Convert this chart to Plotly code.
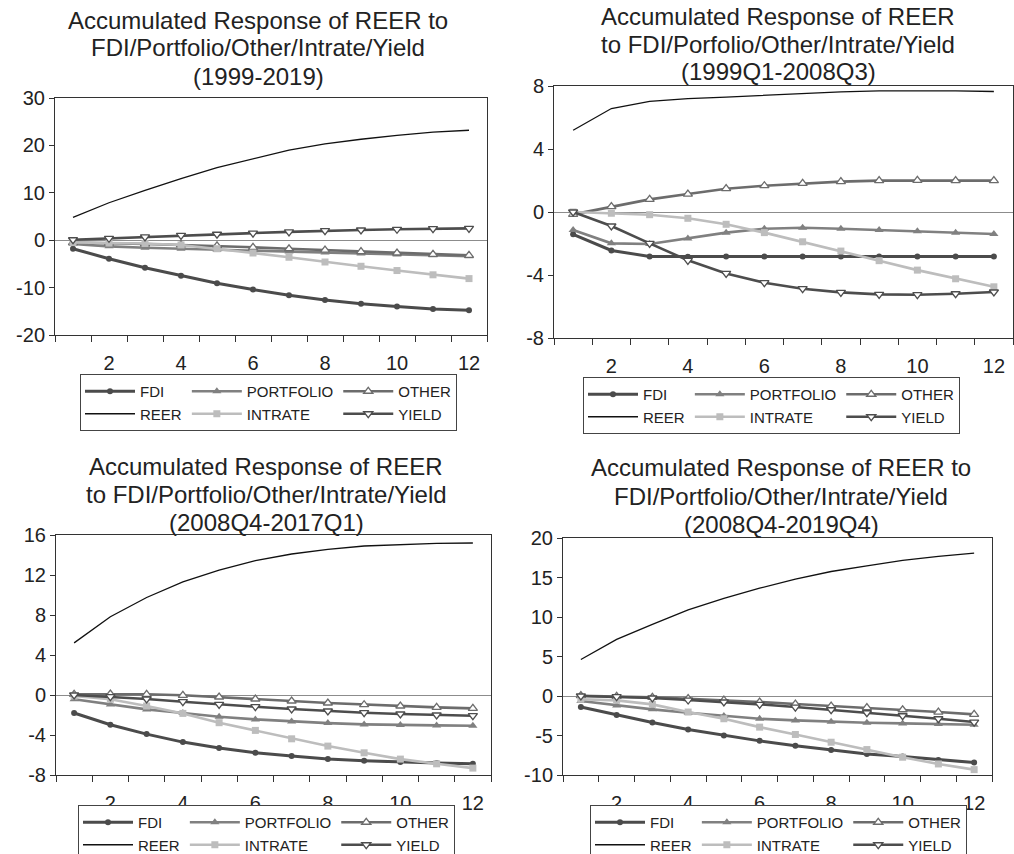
import plotly.graph_objects as go

W, H = 1014, 854
horizon = list(range(1, 13))

# ---- Panel 1: 1999-2019 ----
p1_fdi = [-1.8, -3.9, -5.8, -7.5, -9.1, -10.4, -11.6, -12.6, -13.4, -14.0, -14.5, -14.8]
p1_portfolio = [-0.8, -1.3, -1.6, -1.8, -2.0, -2.2, -2.4, -2.6, -2.8, -3.0, -3.2, -3.4]
p1_other = [-0.5, -0.6, -0.8, -1.0, -1.2, -1.5, -1.8, -2.1, -2.4, -2.7, -3.0, -3.2]
p1_reer = [4.8, 7.9, 10.5, 13.0, 15.3, 17.2, 19.0, 20.3, 21.3, 22.1, 22.8, 23.2]
p1_intrate = [-0.5, -0.6, -0.7, -1.0, -1.8, -2.7, -3.6, -4.6, -5.5, -6.4, -7.3, -8.1]
p1_yield = [0.1, 0.4, 0.7, 1.0, 1.25, 1.5, 1.75, 2.0, 2.15, 2.3, 2.45, 2.5]

# ---- Panel 2: 1999Q1-2008Q3 ----
p2_fdi = [-1.42, -2.44, -2.82, -2.84, -2.83, -2.82, -2.82, -2.82, -2.82, -2.82, -2.82, -2.82]
p2_portfolio = [-1.14, -1.99, -2.03, -1.69, -1.31, -1.06, -1.0, -1.06, -1.14, -1.23, -1.31, -1.4]
p2_other = [-0.15, 0.34, 0.8, 1.14, 1.48, 1.67, 1.82, 1.93, 1.99, 2.01, 1.99, 1.99]
p2_reer = [5.19, 6.57, 7.03, 7.2, 7.3, 7.42, 7.54, 7.63, 7.69, 7.71, 7.69, 7.65]
p2_intrate = [0.0, -0.08, -0.17, -0.4, -0.78, -1.31, -1.89, -2.48, -3.09, -3.69, -4.24, -4.75]
p2_yield = [0.0, -0.89, -1.99, -3.07, -3.9, -4.49, -4.87, -5.1, -5.23, -5.25, -5.19, -5.08]

# ---- Panel 3: 2008Q4-2017Q1 ----
p3_fdi = [-1.8, -2.97, -3.91, -4.71, -5.31, -5.78, -6.11, -6.41, -6.58, -6.71, -6.81, -6.88]
p3_portfolio = [-0.43, -0.94, -1.44, -1.8, -2.17, -2.44, -2.64, -2.81, -2.94, -3.01, -3.04, -3.07]
p3_other = [0.07, 0.1, 0.07, -0.03, -0.2, -0.4, -0.6, -0.8, -0.97, -1.1, -1.24, -1.34]
p3_reer = [5.21, 7.82, 9.75, 11.32, 12.49, 13.43, 14.1, 14.56, 14.9, 15.06, 15.16, 15.2]
p3_intrate = [-0.1, -0.43, -1.1, -1.84, -2.77, -3.54, -4.38, -5.11, -5.78, -6.41, -6.88, -7.31]
p3_yield = [0.0, -0.17, -0.4, -0.67, -0.94, -1.17, -1.4, -1.6, -1.77, -1.9, -2.0, -2.07]

# ---- Panel 4: 2008Q4-2019Q4 ----
p4_fdi = [-1.4, -2.42, -3.35, -4.24, -5.0, -5.68, -6.31, -6.82, -7.33, -7.67, -8.09, -8.43]
p4_portfolio = [-0.64, -1.19, -1.69, -2.12, -2.54, -2.88, -3.09, -3.26, -3.39, -3.47, -3.56, -3.64]
p4_other = [0.04, -0.04, -0.17, -0.34, -0.51, -0.76, -1.02, -1.27, -1.48, -1.74, -2.03, -2.33]
p4_reer = [4.62, 7.16, 9.07, 10.89, 12.37, 13.64, 14.79, 15.76, 16.48, 17.16, 17.67, 18.09]
p4_intrate = [-0.42, -0.55, -1.06, -2.03, -2.88, -3.94, -4.87, -5.85, -6.78, -7.75, -8.6, -9.32]
p4_yield = [0.0, -0.08, -0.25, -0.51, -0.76, -1.06, -1.4, -1.74, -2.12, -2.5, -2.88, -3.3]

# titles and y tick values per panel
p1_title = ["Accumulated Response of REER to", "FDI/Portfolio/Other/Intrate/Yield", "(1999-2019)"]
p2_title = ["Accumulated Response of REER", "to FDI/Porfolio/Other/Intrate/Yield", "(1999Q1-2008Q3)"]
p3_title = ["Accumulated Response of REER", "to FDI/Portfolio/Other/Intrate/Yield", "(2008Q4-2017Q1)"]
p4_title = ["Accumulated Response of REER to", "FDI/Portfolio/Other/Intrate/Yield", "(2008Q4-2019Q4)"]
p1_yticks = [-20, -10, 0, 10, 20, 30]
p2_yticks = [-8, -4, 0, 4, 8]
p3_yticks = [-8, -4, 0, 4, 8, 12, 16]
p4_yticks = [-10, -5, 0, 5, 10, 15, 20]
x_ticks = [2, 4, 6, 8, 10, 12]

FONT = "Liberation Sans, Arial, Helvetica, sans-serif"

# series styling (legend column, line colour, width, marker)
styles = {
    "FDI": dict(col=1, color="#4b4b4b", width=3.0,
                marker=dict(symbol="circle", size=6, color="#4b4b4b")),
    "PORTFOLIO": dict(col=2, color="#808080", width=2.6,
                      marker=dict(symbol="triangle-up", size=8, color="#808080")),
    "OTHER": dict(col=3, color="#6c6c6c", width=2.6,
                  marker=dict(symbol="triangle-up", size=8, color="white",
                              line=dict(color="#6c6c6c", width=1.3))),
    "REER": dict(col=1, color="#111111", width=1.3, marker=None),
    "INTRATE": dict(col=2, color="#bdbdbd", width=2.6,
                    marker=dict(symbol="square", size=7, color="#bdbdbd")),
    "YIELD": dict(col=3, color="#4d4d4d", width=2.6,
                  marker=dict(symbol="triangle-down", size=8, color="white",
                              line=dict(color="#4d4d4d", width=1.3))),
}
order = ["FDI", "PORTFOLIO", "OTHER", "REER", "INTRATE", "YIELD"]

panels = [
    dict(data=dict(FDI=p1_fdi, PORTFOLIO=p1_portfolio, OTHER=p1_other, REER=p1_reer,
                   INTRATE=p1_intrate, YIELD=p1_yield),
         title=p1_title, yticks=p1_yticks, yrange=[-20, 30],
         box=(55, 487, 98, 335), title_x=258, title_y=(20, 48, 77), legend_xy=(80, 374)),
    dict(data=dict(FDI=p2_fdi, PORTFOLIO=p2_portfolio, OTHER=p2_other, REER=p2_reer,
                   INTRATE=p2_intrate, YIELD=p2_yield),
         title=p2_title, yticks=p2_yticks, yrange=[-8, 8],
         box=(554, 1013, 86, 338), title_x=778, title_y=(16, 44, 72), legend_xy=(583, 377)),
    dict(data=dict(FDI=p3_fdi, PORTFOLIO=p3_portfolio, OTHER=p3_other, REER=p3_reer,
                   INTRATE=p3_intrate, YIELD=p3_yield),
         title=p3_title, yticks=p3_yticks, yrange=[-8, 16],
         box=(56, 491, 535, 775), title_x=266, title_y=(466, 494, 522), legend_xy=(78, 805)),
    dict(data=dict(FDI=p4_fdi, PORTFOLIO=p4_portfolio, OTHER=p4_other, REER=p4_reer,
                   INTRATE=p4_intrate, YIELD=p4_yield),
         title=p4_title, yticks=p4_yticks, yrange=[-10, 20],
         box=(563, 992, 538, 775), title_x=781, title_y=(467, 496, 524), legend_xy=(590, 805)),
]

fig = go.Figure()
layout = dict(
    width=W, height=H,
    margin=dict(l=0, r=0, t=0, b=0, autoexpand=False),
    paper_bgcolor="white", plot_bgcolor="white",
    font=dict(family=FONT, color="#222222"),
    annotations=[],
)

for i, p in enumerate(panels, start=1):
    sfx = "" if i == 1 else str(i)
    leg = "legend" if i == 1 else f"legend{i}"
    x0, x1, y0, y1 = p["box"]
    for name in order:
        st = styles[name]
        mode = "lines+markers" if st["marker"] else "lines"
        tr = dict(
            x=horizon, y=p["data"][name], name=name, mode=mode,
            line=dict(color=st["color"], width=st["width"]),
            xaxis=f"x{sfx}", yaxis=f"y{sfx}",
            legend=leg, legendgroup=f"p{i}c{st['col']}",
            hoverinfo="skip",
        )
        if st["marker"]:
            tr["marker"] = st["marker"]
        fig.add_trace(go.Scatter(**tr))

    layout[f"xaxis{sfx}"] = dict(
        domain=[x0 / W, x1 / W], anchor=f"y{sfx}", range=[0.5, 12.5],
        tickmode="array", tickvals=x_ticks, ticktext=[str(v) for v in x_ticks],
        ticks="", ticklabelstandoff=10,
        tickfont=dict(size=20, family=FONT, color="#222"),
        showline=True, mirror=True, linecolor="#333", linewidth=1,
        showgrid=False, zeroline=False, automargin=False, fixedrange=True,
        minor=dict(tickmode="array", tickvals=[k + 0.5 for k in range(13)],
                   ticks="outside", ticklen=6, tickcolor="#333", tickwidth=1,
                   showgrid=False),
    )
    layout[f"yaxis{sfx}"] = dict(
        domain=[1 - y1 / H, 1 - y0 / H], anchor=f"x{sfx}", range=p["yrange"],
        tickmode="array", tickvals=p["yticks"], ticktext=[str(v) for v in p["yticks"]],
        ticks="outside", ticklen=5, tickcolor="#333", tickwidth=1,
        tickfont=dict(size=20, family=FONT, color="#222"),
        showline=True, mirror=True, linecolor="#333", linewidth=1,
        showgrid=False, zeroline=True, zerolinecolor="#8c8c8c", zerolinewidth=1,
        automargin=False, fixedrange=True,
    )
    lx, ly = p["legend_xy"]
    layout[leg] = dict(
        orientation="h", traceorder="grouped",
        x=lx / W, y=1 - ly / H, xanchor="left", yanchor="top",
        bgcolor="white", bordercolor="#444", borderwidth=1,
        font=dict(size=15, family=FONT, color="#222"),
        itemwidth=50, tracegroupgap=0,
    )
    for line_text, ty in zip(p["title"], p["title_y"]):
        layout["annotations"].append(dict(
            text=line_text, x=p["title_x"] / W, y=1 - ty / H,
            xref="paper", yref="paper", xanchor="center", yanchor="middle",
            showarrow=False, font=dict(size=24, family=FONT, color="#222"),
        ))

fig.update_layout(**layout)
fig.write_html("out.html", config={"displayModeBar": False})
